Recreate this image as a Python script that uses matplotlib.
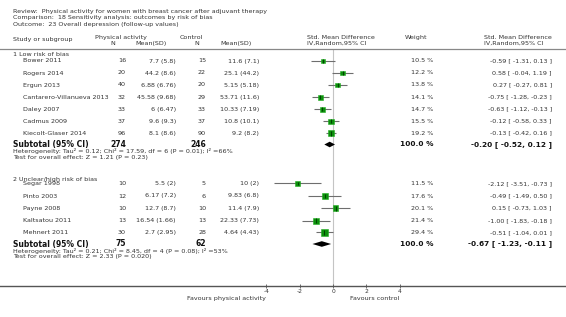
import numpy as np
import matplotlib
import matplotlib.pyplot as plt

matplotlib.use('Agg')

# Study data
studies_1 = ["Bower 2011", "Rogers 2014", "Ergun 2013", "Cantarero-Villanueva 2013",
             "Daley 2007", "Cadmus 2009", "Kiecolt-Glaser 2014"]
n_pa_1 = [16, 20, 40, 32, 33, 37, 96]
msd_pa_1 = ["7.7 (5.8)", "44.2 (8.6)", "6.88 (6.76)", "45.58 (9.68)", "6 (6.47)",
            "9.6 (9.3)", "8.1 (8.6)"]
n_ct_1 = [15, 22, 20, 29, 33, 37, 90]
msd_ct_1 = ["11.6 (7.1)", "25.1 (44.2)", "5.15 (5.18)", "53.71 (11.6)", "10.33 (7.19)",
            "10.8 (10.1)", "9.2 (8.2)"]
weight_1 = [10.5, 12.2, 13.8, 14.1, 14.7, 15.5, 19.2]
smd_1 = [-0.59, 0.58, 0.27, -0.75, -0.63, -0.12, -0.13]
lo_1 = [-1.31, -0.04, -0.27, -1.28, -1.12, -0.58, -0.42]
hi_1 = [0.13, 1.19, 0.81, -0.23, -0.13, 0.33, 0.16]
sub_1 = (-0.20, -0.52, 0.12)
het_1 = "Heterogeneity: Tau² = 0.12; Chi² = 17.59, df = 6 (P = 0.01); I² =66%"
test_1 = "Test for overall effect: Z = 1.21 (P = 0.23)"

studies_2 = ["Segar 1998", "Pinto 2003", "Payne 2008", "Kaltsatou 2011", "Mehnert 2011"]
n_pa_2 = [10, 12, 10, 13, 30]
msd_pa_2 = ["5.5 (2)", "6.17 (7.2)", "12.7 (8.7)", "16.54 (1.66)", "2.7 (2.95)"]
n_ct_2 = [5, 6, 10, 13, 28]
msd_ct_2 = ["10 (2)", "9.83 (6.8)", "11.4 (7.9)", "22.33 (7.73)", "4.64 (4.43)"]
weight_2 = [11.5, 17.6, 20.1, 21.4, 29.4]
smd_2 = [-2.12, -0.49, 0.15, -1.00, -0.51]
lo_2 = [-3.51, -1.49, -0.73, -1.83, -1.04]
hi_2 = [-0.73, 0.50, 1.03, -0.18, 0.01]
sub_2 = (-0.67, -1.23, -0.11)
het_2 = "Heterogeneity: Tau² = 0.21; Chi² = 8.45, df = 4 (P = 0.08); I² =53%"
test_2 = "Test for overall effect: Z = 2.33 (P = 0.020)"

ticks = [-4, -2, 0, 2, 4]

W, H = 566, 317
TXT = '#333333'
FS = 4.6

fig = plt.figure(figsize=(W / 100, H / 100), dpi=100)
fig.patch.set_facecolor('white')

# text layer in pixel coordinates
tx = fig.add_axes([0, 0, 1, 1])
tx.set_xlim(0, W)
tx.set_ylim(H, 0)
tx.axis('off')

# forest plot layer: zero at x=333 px, 16.7 px per unit
x0, unit = 333, 16.7
top_px, axis_px = 49, 286
ax = fig.add_axes([0, (H - axis_px) / H, 1, (axis_px - top_px) / H])
ax.set_xlim(-x0 / unit, (W - x0) / unit)
ax.set_ylim(axis_px, top_px)
ax.patch.set_visible(False)
for s in ['left', 'right']:
    ax.spines[s].set_visible(False)
ax.spines['top'].set_color('#888888')
ax.spines['top'].set_linewidth(0.9)
ax.spines['bottom'].set_color('#555555')
ax.spines['bottom'].set_linewidth(1.0)
ax.set_yticks([])
ax.set_xticks(ticks)
ax.set_xticklabels([str(t) for t in ticks])
ax.tick_params(axis='x', direction='inout', length=3, width=0.6, color='#555555',
               labelsize=4.3, labelcolor=TXT, pad=1)
ax.axvline(0, color='#c4c4c4', lw=0.8, zorder=0)


def text(x, y, s, ha='left', fs=FS, bold=False, color=TXT):
    tx.text(x, y, s, ha=ha, va='center', fontsize=fs, color=color,
            fontweight='bold' if bold else 'normal')


# title block
text(13, 12, "Review:  Physical activity for women with breast cancer after adjuvant therapy")
text(13, 18, "Comparison:  18 Sensitivity analysis: outcomes by risk of bias")
text(13, 24.5, "Outcome:  23 Overall depression (follow-up values)")

# column headers
text(13, 39, "Study or subgroup")
text(95, 37.5, "Physical activity")
text(113, 43.5, "N", ha='center')
text(167, 43.5, "Mean(SD)", ha='right')
text(180, 37.5, "Control")
text(197, 43.5, "N", ha='center')
text(220, 43.5, "Mean(SD)")
text(307, 37.5, "Std. Mean Difference")
text(307, 43.5, "IV,Random,95% CI")
text(405, 37.5, "Weight")
text(484, 37.5, "Std. Mean Difference")
text(484, 43.5, "IV,Random,95% CI")


def ci_label(e, l, h):
    return f"{e:.2f} [ {l:.2f}, {h:.2f} ]"


def group(title, y_title, y_rows, y_sub, names, n_pa, msd_pa, n_ct, msd_ct,
          wts, est, lo, hi, sub, het, test):
    text(13, y_title, title)
    for i, y in enumerate(y_rows):
        text(23, y, names[i])
        text(126, y, str(n_pa[i]), ha='right')
        text(176, y, msd_pa[i], ha='right')
        text(206, y, str(n_ct[i]), ha='right')
        text(259, y, msd_ct[i], ha='right')
        text(433, y, f"{wts[i]:.1f} %", ha='right')
        text(552, y, ci_label(est[i], lo[i], hi[i]), ha='right')
    ys = np.array(y_rows)
    ax.hlines(ys, lo, hi, color='#6e6e6e', lw=0.8, zorder=2)
    side = 1.3 * np.sqrt(np.array(wts)) * 0.72
    ax.scatter(est, ys, marker='s', s=side ** 2, color='#0c8f0c',
               edgecolors='#22b022', linewidths=0.4, zorder=3)
    ax.scatter(est, ys, marker='|', s=(side * 0.8) ** 2, color='#003300',
               linewidths=0.6, zorder=4)
    # subtotal
    text(13, y_sub, "Subtotal (95% CI)", fs=5.5, bold=True, color='#111111')
    text(126, y_sub, str(sum(n_pa)), ha='right', fs=5.5, bold=True, color='#111111')
    text(206, y_sub, str(sum(n_ct)), ha='right', fs=5.5, bold=True, color='#111111')
    text(433, y_sub, "100.0 %", ha='right', fs=5.3, bold=True, color='#111111')
    text(552, y_sub, ci_label(*sub), ha='right', fs=5.3, bold=True, color='#111111')
    e, l, h = sub
    ax.fill([l, e, h, e], [y_sub, y_sub - 2.8, y_sub, y_sub + 2.8],
            color='black', lw=0, zorder=3)
    text(13, y_sub + 6.5, het)
    text(13, y_sub + 12.5, test)


rows_1 = [61, 73, 85, 97.2, 109.2, 121.2, 133.3]
group("1 Low risk of bias", 55, rows_1, 144.5, studies_1, n_pa_1, msd_pa_1,
      n_ct_1, msd_ct_1, weight_1, smd_1, lo_1, hi_1, sub_1, het_1, test_1)

rows_2 = [183.5, 196, 208.3, 220.6, 232.5]
group("2 Unclear/high risk of bias", 179, rows_2, 244, studies_2, n_pa_2, msd_pa_2,
      n_ct_2, msd_ct_2, weight_2, smd_2, lo_2, hi_2, sub_2, het_2, test_2)

# favours labels
text(266, 298.5, "Favours physical activity", ha='right')
text(350, 298.5, "Favours control")

fig.savefig('out.png', dpi=100)
